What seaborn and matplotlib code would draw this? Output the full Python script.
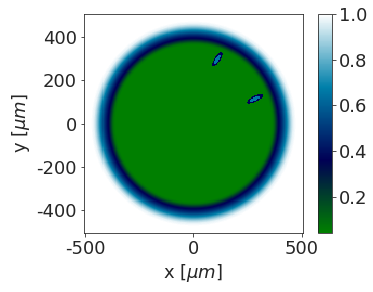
import numpy as np
import seaborn as sns
import matplotlib.pyplot as plt

# radial profile of the field (distance from centre in um -> value)
profile_r = [0, 360, 370, 380, 390, 400, 410, 420, 430, 440, 450, 460, 475]
profile_v = [0.04, 0.04, 0.08, 0.2, 0.33, 0.4, 0.48, 0.58, 0.68, 0.8, 0.9, 0.97, 1.0]

# two elongated cells near the rim: centre x, centre y, length, width, angle (deg)
cell_x = [110, 284]
cell_y = [296, 114]
cell_len = [78, 84]
cell_wid = [26, 26]
cell_ang = [57, 26]
cell_core = 0.66
cell_edge = 0.36

step = 5
half = 505

sns.set_style("ticks")
plt.rcParams['font.family'] = ['DejaVu Sans']
plt.rcParams['font.size'] = 18
plt.rcParams['axes.unicode_minus'] = False

xs = np.arange(-half + step / 2, half, step)
X, Y = np.meshgrid(xs, xs)
R = np.hypot(X, Y)
field = np.interp(R, profile_r, profile_v)

for cx, cy, L, W, a in zip(cell_x, cell_y, cell_len, cell_wid, cell_ang):
    t = np.deg2rad(a)
    u = (X - cx) * np.cos(t) + (Y - cy) * np.sin(t)
    w = -(X - cx) * np.sin(t) + (Y - cy) * np.cos(t)
    d = np.sqrt((u / (L / 2)) ** 2 + (w / (W / 2)) ** 2)
    field[d <= 1] = cell_edge
    field[d <= 0.6] = cell_core

cmap = sns.color_palette("ocean", as_cmap=True)

fig = plt.figure(figsize=(373 / 72, 292 / 72), dpi=72)
ax = fig.add_axes([0.225, 0.202, 0.587, 0.75])
cax = fig.add_axes([0.853, 0.202, 0.037, 0.75])

im = ax.imshow(field, origin="lower", cmap=cmap, extent=[-half, half, -half, half],
               vmin=field.min(), vmax=1.0, interpolation="nearest")
ax.set_xticks([-500, 0, 500])
ax.set_yticks([-400, -200, 0, 200, 400])
ax.set_xlabel(r"x [$\mu m$]")
ax.set_ylabel(r"y [$\mu m$]")

cb = fig.colorbar(im, cax=cax)
cb.set_ticks([0.2, 0.4, 0.6, 0.8, 1.0])

fig.savefig("out.png", dpi=72)
